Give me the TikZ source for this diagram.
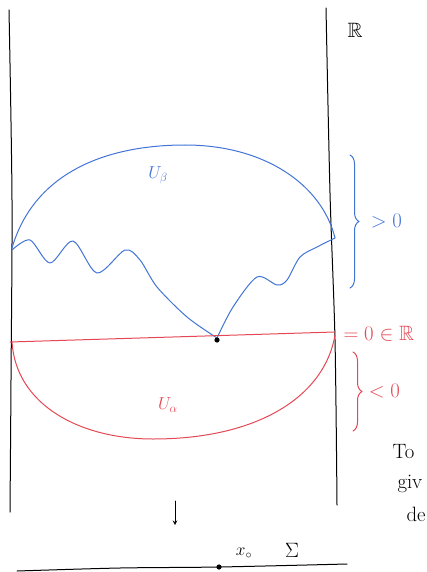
\documentclass[tikz,border=0pt]{standalone}
\usepackage{amsmath,amssymb}
\usetikzlibrary{decorations.pathreplacing}
\definecolor{curveB}{RGB}{66,116,214}
\definecolor{curveR}{RGB}{228,72,84}
\tikzset{pen/.style={line width=1pt,line cap=round,line join=round},
  bracket/.style={pen,decorate,decoration={brace,amplitude=9pt}}}

\begin{document}
\begin{tikzpicture}[x=1pt,y=-1pt,>=stealth]
\useasboundingbox (0,0) rectangle (427,572);
\clip (0,0) rectangle (427,572);
\draw[pen] plot[smooth] coordinates {(9,10) (12,200) (11,380) (10,512)};
\draw[pen] plot[smooth] coordinates {(326,8) (330,193) (335,340) (337,505)};
\node (R) at (355,30) {\huge$\mathbb{R}$};
\draw[pen,curveB] (12,248) .. controls (35,170) and (110,145) .. (185,145)
  .. controls (265,145) and (322,185) .. (335,238);
\draw[pen,curveB] plot[smooth,tension=0.5] coordinates {(12,250) (30,240) (50,263) (73,241)
  (97,273) (125,250) (140,260) (157,287) (187,317) (217,338)};
\draw[pen,curveB] plot[smooth,tension=0.5] coordinates {(217,338) (233,307) (257,277)
  (277,285) (287,280) (300,257) (317,247) (335,238)};
\node[curveB] (Ub) at (158,175) {\LARGE$U_\beta$};
\draw[bracket,curveB] (350,155) -- (350,288) node[midway,right=17pt] (pos) {\huge$>0$};
\draw[pen,curveR] (10,342) -- (335,332);
\draw[pen,curveR] (12,342) .. controls (16,405) and (80,439) .. (153,439)
  .. controls (260,439) and (325,395) .. (335,335);
\fill (217,340) circle(2.6pt) coordinate (p);
\node[curveR] (Ua) at (168,405) {\LARGE$U_\alpha$};
\node[curveR,anchor=west] (zero) at (340,334) {\huge$=0\in\mathbb{R}$};
\draw[bracket,curveR] (353,352) -- (353,431) node[midway,right=12pt] (neg) {\huge$<0$};
\node[anchor=west] (to) at (389,452) {\huge To};
\node[anchor=west] (giv) at (394,484) {\huge giv};
\node[anchor=west] (de) at (403,514) {\huge de};
\coordinate (a1) at (175,501);
\coordinate (a2) at (175,525);
\draw[pen,->] (a1) -- (a2);
\draw[pen] plot[smooth] coordinates {(17,571) (120,568) (219,567) (347,564)};
\fill (219,567) circle(2.6pt) coordinate (x0);
\node (x0l) at (244,553) {\LARGE$x_\circ$};
\node (Sig) at (292,550) {\huge$\Sigma$};
\end{tikzpicture}
\end{document}
